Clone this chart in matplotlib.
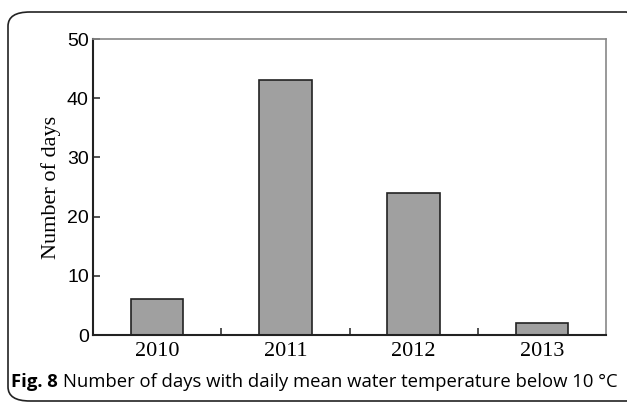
import matplotlib.pyplot as plt
from matplotlib.patches import FancyBboxPatch

years = ['2010', '2011', '2012', '2013']
days = [6, 43, 24, 2]
y_ticks = [0, 10, 20, 30, 40, 50]

fig = plt.figure(figsize=(6.27, 4.04), dpi=100)

# rounded frame around figure + caption
frame = FancyBboxPatch((8 / 627, 3 / 404), 640 / 627, 389 / 404,
                       boxstyle='round,pad=0,rounding_size=0.035',
                       transform=fig.transFigure, fill=False,
                       edgecolor='#222222', linewidth=1.2, clip_on=False)
fig.patches.append(frame)

ax = fig.add_axes([93 / 627, 1 - 335 / 404, 513 / 627, 296 / 404])
x = range(len(years))
ax.bar(x, days, width=0.41, color='#a0a0a0', edgecolor='#222222', linewidth=1.2)

ax.set_xlim(-0.5, 3.5)
ax.set_ylim(0, 50)
ax.set_yticks(y_ticks)
ax.set_yticklabels([str(v) for v in y_ticks], family=['Liberation Sans Narrow', 'Liberation Sans'], fontsize=14)
ax.set_xticks(list(x))
ax.set_xticklabels(years, family='Liberation Serif', fontsize=16)
ax.set_xticks([0.5, 1.5, 2.5], minor=True)
ax.tick_params(axis='x', which='major', length=0, pad=5)
ax.tick_params(axis='x', which='minor', direction='in', length=5, width=1.2, color='#333333')
ax.tick_params(axis='y', direction='in', length=5, width=1.2, color='#333333', pad=3)
ax.set_ylabel('Number of days', family='Liberation Serif', fontsize=16, labelpad=4)

for side in ['left', 'bottom']:
    ax.spines[side].set_linewidth(1.5)
    ax.spines[side].set_color('#222222')
for side in ['top', 'right']:
    ax.spines[side].set_linewidth(1.2)
    ax.spines[side].set_color('#888888')

cap_y = 1 - 382 / 404
t1 = fig.text(11 / 627, cap_y, 'Fig. 8', family='Open Sans', fontweight='bold',
              fontsize=13.3, va='center', ha='left')
r = fig.canvas.get_renderer()
bb = t1.get_window_extent(renderer=r)
fig.text((bb.x1 + 5) / 627, cap_y, 'Number of days with daily mean water temperature below 10 \u00b0C',
         family='Open Sans', fontsize=13.3, va='center', ha='left')

fig.savefig('out.png', dpi=100)
